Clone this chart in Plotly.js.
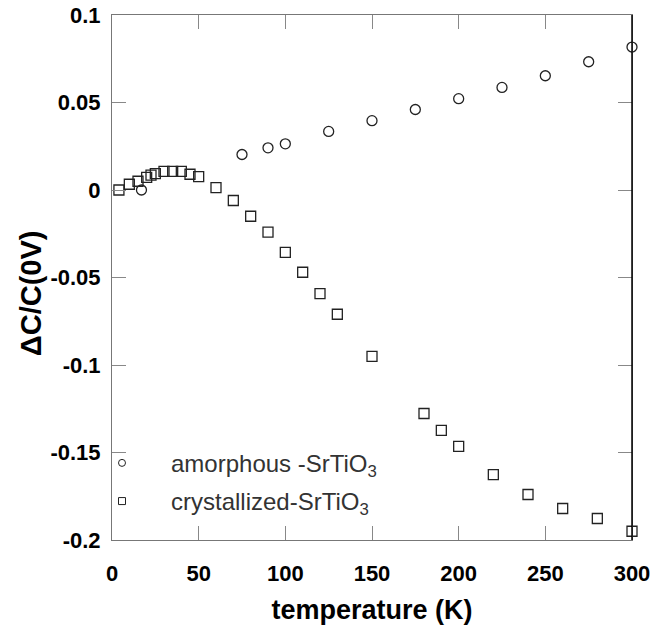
<!DOCTYPE html>
<html>
<head>
<meta charset="utf-8">
<script src="https://cdn.plot.ly/plotly-3.0.1.min.js"></script>
<style>html,body{margin:0;padding:0;background:#fff;}#chart{width:667px;height:630px;}</style>
</head>
<body>
<div id="chart"></div>
<script>
// amorphous-SrTiO3 (circles)
const amorphousT = [17, 75, 90, 100, 125, 150, 175, 200, 225, 250, 275, 300];
const amorphousDC = [0, 0.0203, 0.0241, 0.0264, 0.0335, 0.0396, 0.046, 0.0522, 0.0586, 0.0653, 0.0733, 0.0817];
// crystallized-SrTiO3 (squares)
const crystT = [4, 10, 15, 20, 22.5, 25, 30, 35, 40, 45, 50, 60, 70, 80, 90, 100, 110, 120, 130, 150, 180, 190, 200, 220, 240, 260, 280, 300];
const crystDC = [0, 0.0033, 0.005, 0.0072, 0.0085, 0.0094, 0.0106, 0.0106, 0.0106, 0.009, 0.0077, 0.0014, -0.006, -0.015, -0.0241, -0.0356, -0.047, -0.0592, -0.071, -0.0951, -0.1277, -0.1374, -0.1465, -0.1626, -0.174, -0.182, -0.1877, -0.195];
const xTicks = [0, 50, 100, 150, 200, 250, 300];
const yTicks = [-0.2, -0.15, -0.1, -0.05, 0, 0.05, 0.1];
const seriesNames = ['amorphous -SrTiO<sub>3</sub>', 'crystallized-SrTiO<sub>3</sub>'];
const xTitle = 'temperature (K)';
const yTitle = 'ΔC/C(0V)';

const ink = '#222';
const traces = [
  {x: amorphousT, y: amorphousDC, type: 'scatter', mode: 'markers', showlegend: false, cliponaxis: false,
   marker: {symbol: 'circle-open', size: 10, color: ink, line: {width: 1.3, color: ink}}},
  {x: crystT, y: crystDC, type: 'scatter', mode: 'markers', showlegend: false, cliponaxis: false,
   marker: {symbol: 'square-open', size: 10, color: ink, line: {width: 1.3, color: ink}}},
  {x: [null], y: [null], type: 'scatter', mode: 'markers', name: seriesNames[0], legendgroup: 'a',
   marker: {symbol: 'circle-open', size: 7, color: ink, line: {width: 1, color: ink}}},
  {x: [null], y: [null], type: 'scatter', mode: 'markers', name: seriesNames[1], legendgroup: 'b',
   marker: {symbol: 'square-open', size: 7, color: ink, line: {width: 1, color: ink}}}
];

const fam = 'Liberation Sans, Arial, sans-serif';
const tickFont = {family: fam, size: 22, color: '#000', weight: 'bold'};
const axisCommon = {
  showgrid: false, zeroline: false, showline: true, linecolor: '#777', linewidth: 1,
  mirror: 'ticks', ticks: 'inside', ticklen: 14, tickcolor: '#888', tickwidth: 1,
  tickfont: tickFont
};

const layout = {
  width: 667, height: 630,
  margin: {l: 112, r: 35, t: 15, b: 90},
  paper_bgcolor: '#fff', plot_bgcolor: '#fff',
  xaxis: Object.assign({}, axisCommon, {
    range: [0, 300], tickvals: xTicks, ticktext: xTicks.map(String),
    ticklabelstandoff: 14,
    title: {text: xTitle, standoff: 14,
      font: {family: fam, size: 27, color: '#000', weight: 'bold'}}
  }),
  yaxis: Object.assign({}, axisCommon, {
    range: [-0.2, 0.1], tickvals: yTicks, ticktext: yTicks.map(String),
    ticklabelstandoff: 6
  }),
  annotations: [
    {text: yTitle, xref: 'paper', yref: 'paper', x: -0.156, y: 0.47,
     xanchor: 'center', yanchor: 'middle', textangle: -90, showarrow: false,
     font: {family: fam, size: 29, color: '#000', weight: 'bold'}}
  ],
  shapes: [
    {type: 'line', xref: 'paper', yref: 'paper', x0: 1, x1: 1, y0: 0, y1: 1,
     line: {color: '#000', width: 1.5}}
  ],
  showlegend: true,
  legend: {x: -0.075, y: 0.189, xanchor: 'left', yanchor: 'top', bgcolor: 'rgba(0,0,0,0)',
    itemwidth: 88, tracegroupgap: 4,
    font: {family: fam, size: 24, color: '#333'}}
};

Plotly.newPlot('chart', traces, layout, {displayModeBar: false, staticPlot: true});
</script>
</body>
</html>
